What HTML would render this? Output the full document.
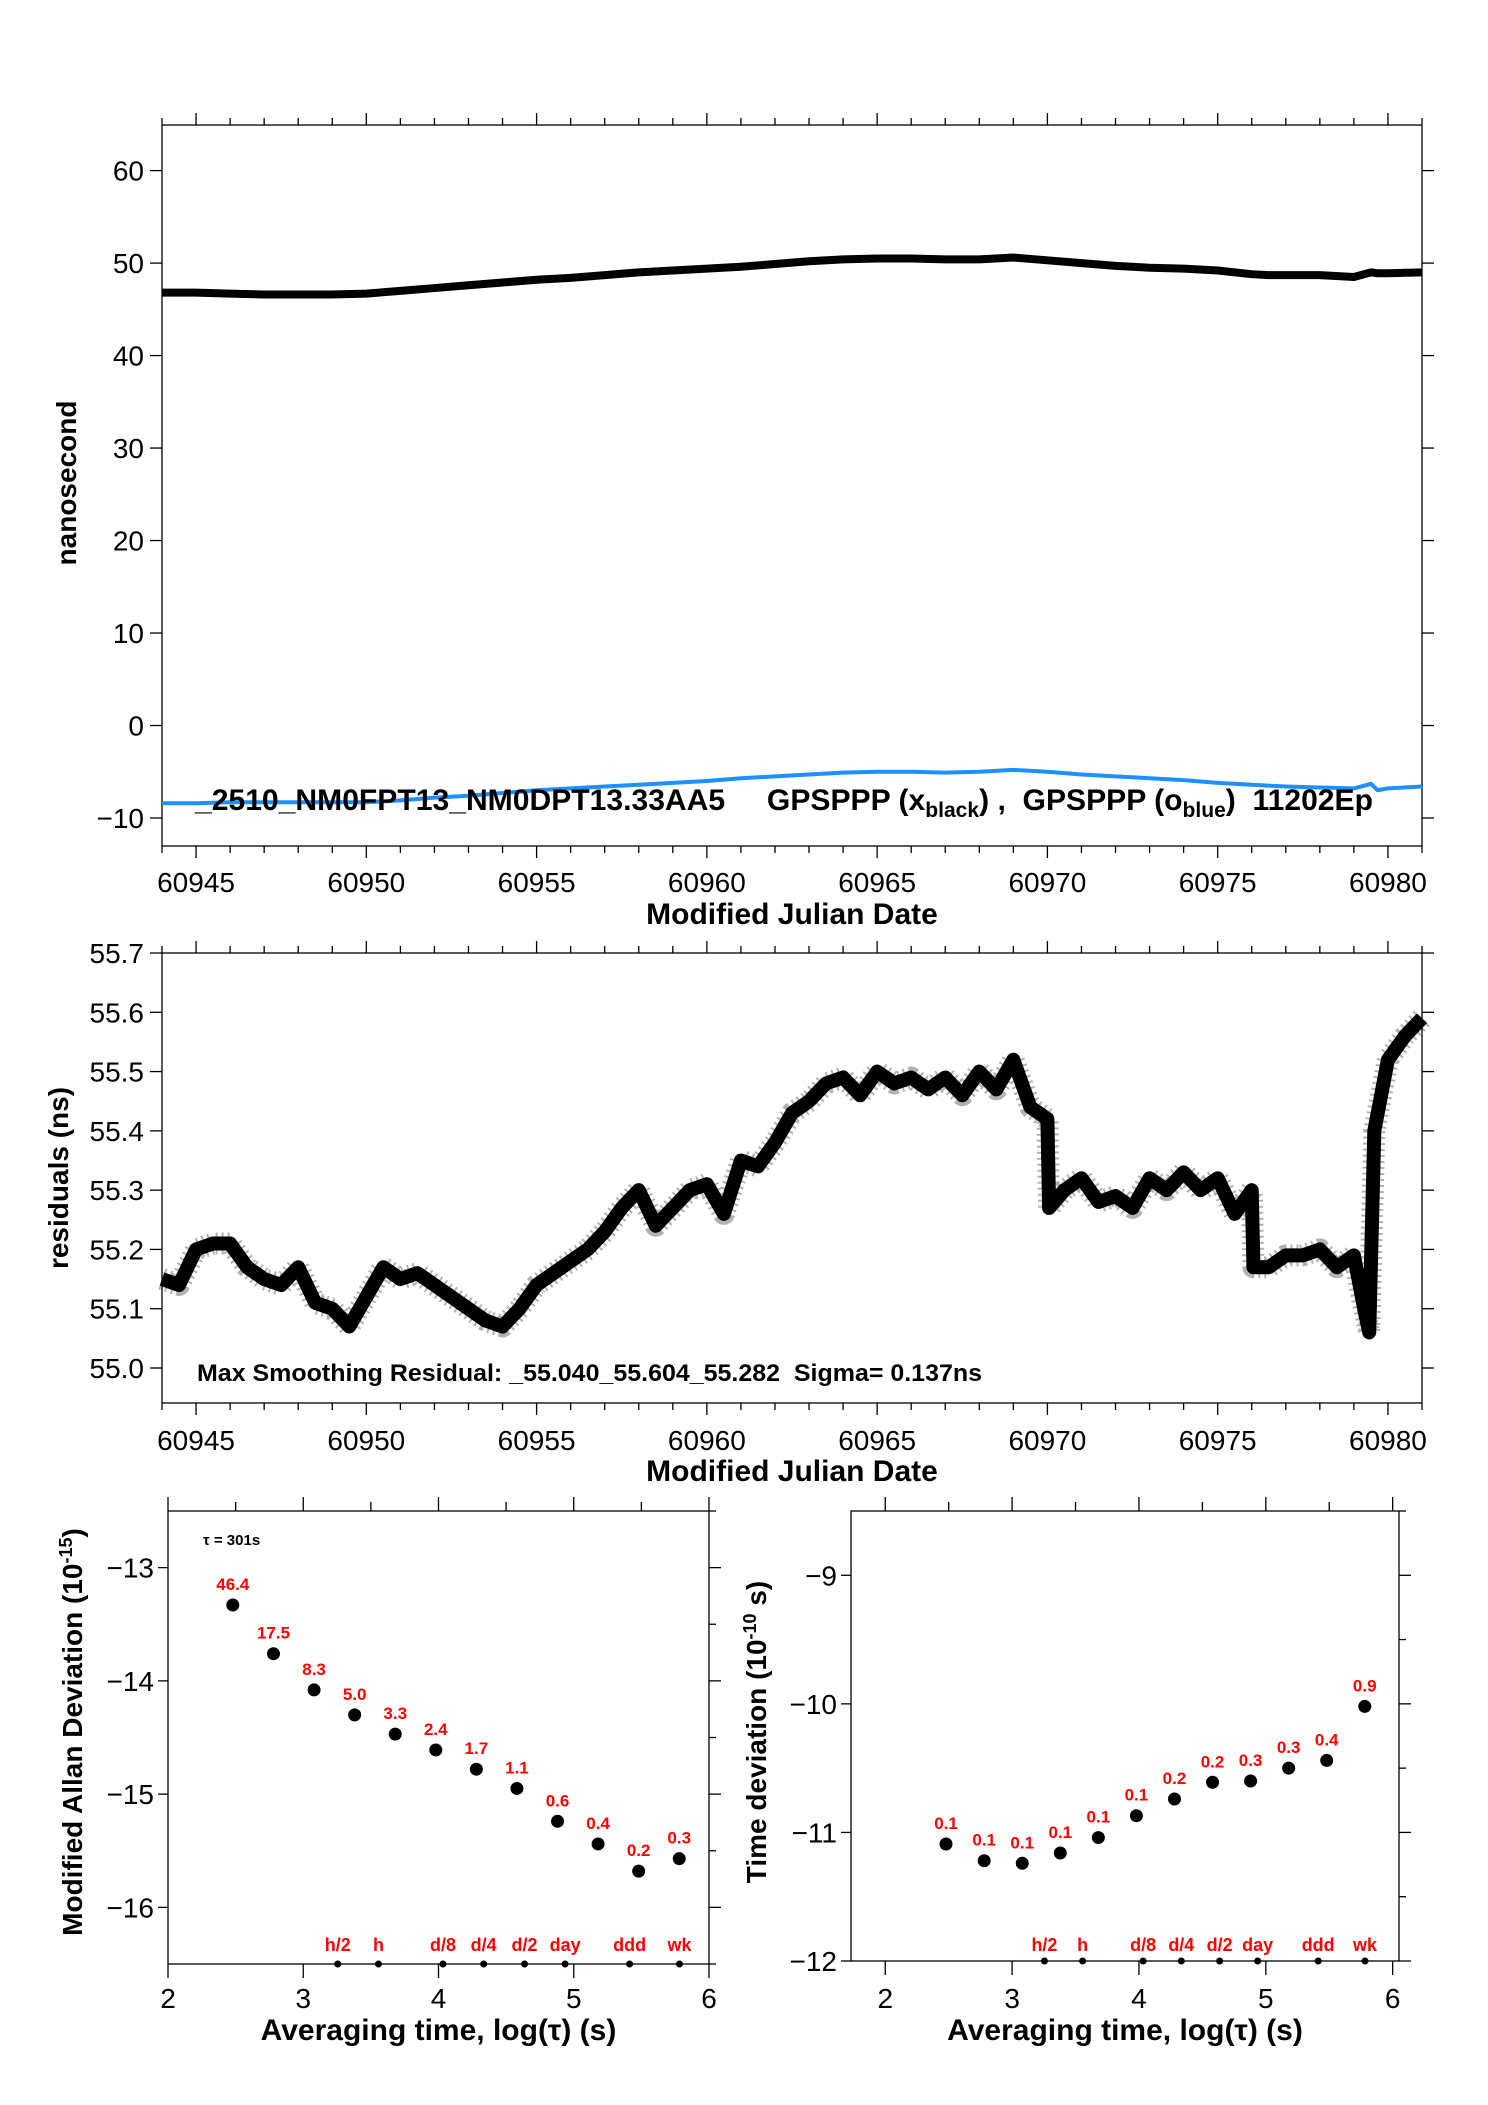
<!DOCTYPE html>
<html><head><meta charset="utf-8"><style>
html,body{margin:0;padding:0;background:#fff;}
svg{display:block;font-family:"Liberation Sans",sans-serif;}
</style></head><body>
<svg id="s" width="1488" height="2105" viewBox="0 0 1488 2105" xmlns="http://www.w3.org/2000/svg"></svg>
<script>
// ---- data ----
const tsDays = [60944,60945,60946,60947,60948,60949,60950,60951,60952,60953,60954,60955,60956,60957,60958,60959,60960,60961,60962,60963,60964,60965,60966,60967,60968,60969,60970,60971,60972,60973,60974,60975,60976,60976.5,60977,60978,60979,60979.5,60979.7,60980,60981];
const blackVals = [46.8,46.8,46.7,46.6,46.6,46.6,46.7,47.0,47.3,47.6,47.9,48.2,48.4,48.7,49.0,49.2,49.4,49.6,49.9,50.2,50.4,50.5,50.5,50.4,50.4,50.6,50.3,50.0,49.7,49.5,49.4,49.2,48.8,48.7,48.7,48.7,48.5,49.0,48.9,48.9,49.0];
const blueVals = [-8.4,-8.4,-8.3,-8.3,-8.3,-8.3,-8.3,-8.1,-7.8,-7.6,-7.3,-7.0,-6.8,-6.6,-6.4,-6.2,-6.0,-5.7,-5.5,-5.3,-5.1,-5.0,-5.0,-5.1,-5.0,-4.8,-5.0,-5.3,-5.5,-5.7,-5.9,-6.2,-6.4,-6.5,-6.6,-6.7,-6.8,-6.3,-7.0,-6.8,-6.6];
const resDays = [60944,60944.5,60945,60945.5,60946,60946.5,60947,60947.5,60948,60948.5,60949,60949.5,60950,60950.5,60951,60951.5,60952,60952.5,60953,60953.5,60954,60954.5,60955,60955.5,60956,60956.5,60957,60957.5,60958,60958.5,60959,60959.5,60960,60960.5,60961,60961.5,60962,60962.5,60963,60963.5,60964,60964.5,60965,60965.5,60966,60966.5,60967,60967.5,60968,60968.5,60969,60969.5,60970,60970.05,60970.5,60971,60971.5,60972,60972.5,60973,60973.5,60974,60974.5,60975,60975.5,60976,60976.05,60976.5,60977,60977.5,60978,60978.5,60979,60979.3,60979.45,60979.6,60980,60980.5,60981];
const resVals = [55.15,55.14,55.20,55.21,55.21,55.17,55.15,55.14,55.17,55.11,55.10,55.07,55.12,55.17,55.15,55.16,55.14,55.12,55.10,55.08,55.07,55.10,55.14,55.16,55.18,55.20,55.23,55.27,55.30,55.24,55.27,55.30,55.31,55.26,55.35,55.34,55.38,55.43,55.45,55.48,55.49,55.46,55.50,55.48,55.49,55.47,55.49,55.46,55.50,55.47,55.52,55.44,55.42,55.27,55.30,55.32,55.28,55.29,55.27,55.32,55.30,55.33,55.30,55.32,55.26,55.30,55.17,55.17,55.19,55.19,55.20,55.17,55.19,55.10,55.06,55.40,55.52,55.56,55.59];
const tauLog = [2.479,2.78,3.08,3.38,3.68,3.98,4.28,4.58,4.88,5.18,5.48,5.78];
const mdevVals = [-13.33,-13.76,-14.08,-14.30,-14.47,-14.61,-14.78,-14.95,-15.24,-15.44,-15.68,-15.57];
const mdevLabels = ["46.4","17.5","8.3","5.0","3.3","2.4","1.7","1.1","0.6","0.4","0.2","0.3"];
const tdevVals = [-11.09,-11.22,-11.24,-11.16,-11.04,-10.87,-10.74,-10.61,-10.60,-10.50,-10.44,-10.02];
const tdevLabels = ["0.1","0.1","0.1","0.1","0.1","0.1","0.2","0.2","0.3","0.3","0.4","0.9"];
const markNames = ["h/2","h","d/8","d/4","d/2","day","ddd","wk"];
const markLog = [3.255,3.556,4.033,4.334,4.636,4.936,5.413,5.782];
const mjdTicks = [60945,60950,60955,60960,60965,60970,60975,60980];
const nsTicks = [-10,0,10,20,30,40,50,60];
const resTicks = [55.0,55.1,55.2,55.3,55.4,55.5,55.6,55.7];

const S = document.getElementById('s');
const NS = 'http://www.w3.org/2000/svg';
function el(tag, attrs, parent){ const e=document.createElementNS(NS,tag); for(const k in attrs) e.setAttribute(k,attrs[k]); (parent||S).appendChild(e); return e; }
function txt(x,y,str,size,opts,parent){ const t=el('text',Object.assign({x:x,y:y,'font-size':size,fill:'#000'},opts||{}),parent); t.textContent=str; return t; }
function lin(d0,d1,r0,r1){ return v => r0 + (v-d0)*(r1-r0)/(d1-d0); }

// ---------- Top plot ----------
const T = {l:162,r:1422,t:125,b:846};
const xT = lin(60944,60981,T.l,T.r);
const yT = lin(-10,60,818,170.6);
const g1 = el('g',{});  
const f1 = el('rect',{x:T.l,y:T.t,width:T.r-T.l,height:T.b-T.t,fill:'none',stroke:'#000','stroke-width':1.3},g1);
 
for(let d=60944; d<=60981; d++){
  const maj = d%5===0, L = maj?12:7, x=xT(d);
  el('line',{x1:x,y1:T.b,x2:x,y2:T.b+L,stroke:'#000','stroke-width':1.3},g1);
  el('line',{x1:x,y1:T.t,x2:x,y2:T.t-L,stroke:'#000','stroke-width':1.3},g1);
}
mjdTicks.forEach(d=>{ const t=txt(xT(d),892,String(d),28,{'text-anchor':'middle'},g1);   });
nsTicks.forEach(v=>{ const y=yT(v);
  el('line',{x1:T.l-12,y1:y,x2:T.l,y2:y,stroke:'#000','stroke-width':1.3},g1);
  el('line',{x1:T.r,y1:y,x2:T.r+12,y2:y,stroke:'#000','stroke-width':1.3},g1);
  const t=txt(T.l-18,y+10,(v<0?'\u2212'+(-v):String(v)),28,{'text-anchor':'end'},g1);  
});
let pb = tsDays.map((d,i)=>xT(d)+','+yT(blackVals[i])).join(' ');
const lb = el('polyline',{points:pb,fill:'none',stroke:'#000','stroke-width':8,'stroke-linejoin':'round'},g1);
 
let pu = tsDays.map((d,i)=>xT(d)+','+yT(blueVals[i])).join(' ');
const lu = el('polyline',{points:pu,fill:'none',stroke:'#1e90ff','stroke-width':4,'stroke-linejoin':'round'},g1);
 
const leg = el('text',{x:195,y:810,'font-size':30,'font-weight':'bold',fill:'#000',textLength:1178,lengthAdjust:'spacingAndGlyphs'},g1);
 
leg.innerHTML = '_2510_NM0FPT13_NM0DPT13.33AA5\u00a0\u00a0\u00a0\u00a0 GPSPPP (x<tspan font-size="21" dy="7">black</tspan><tspan dy="-7">) ,\u00a0 GPSPPP (o</tspan><tspan font-size="21" dy="7">blue</tspan><tspan dy="-7">)\u00a0 11202Ep</tspan>';
let yt1 = txt(76,483,'nanosecond',28,{'font-weight':'bold','text-anchor':'middle',transform:'rotate(-90 76 483)'},g1);
 
let xt1 = txt(792,924,'Modified Julian Date',30,{'font-weight':'bold','text-anchor':'middle'},g1);
 

// ---------- Middle plot ----------
const M = {l:162,r:1422,t:953,b:1403};
const yM = lin(55.0,55.7,1368,953);
const g2 = el('g',{});  
const f2 = el('rect',{x:M.l,y:M.t,width:M.r-M.l,height:M.b-M.t,fill:'none',stroke:'#000','stroke-width':1.3},g2);
 
for(let d=60944; d<=60981; d++){
  const maj = d%5===0, L = maj?12:7, x=xT(d);
  el('line',{x1:x,y1:M.b,x2:x,y2:M.b+L,stroke:'#000','stroke-width':1.3},g2);
  el('line',{x1:x,y1:M.t,x2:x,y2:M.t-L,stroke:'#000','stroke-width':1.3},g2);
}
mjdTicks.forEach(d=>{ const t=txt(xT(d),1450,String(d),28,{'text-anchor':'middle'},g2);   });
resTicks.forEach(v=>{ const y=yM(v);
  el('line',{x1:M.l-12,y1:y,x2:M.l,y2:y,stroke:'#000','stroke-width':1.3},g2);
  el('line',{x1:M.r,y1:y,x2:M.r+12,y2:y,stroke:'#000','stroke-width':1.3},g2);
  const t=txt(M.l-18,y+10,v.toFixed(1),28,{'text-anchor':'end'},g2);  
});
let pr = resDays.map((d,i)=>xT(d)+','+yM(resVals[i])).join(' ');
const lr2 = el('polyline',{points:pr,fill:'none',stroke:'#000','stroke-width':22,'stroke-opacity':0.3,'stroke-dasharray':'2 4','stroke-linejoin':'round'},g2);
 
const lr = el('polyline',{points:pr,fill:'none',stroke:'#000','stroke-width':14,'stroke-linejoin':'round','stroke-linecap':'butt'},g2);
 
let ms = txt(197,1381,'Max Smoothing Residual: _55.040_55.604_55.282\u00a0 Sigma= 0.137ns',24,{'font-weight':'bold',textLength:785,lengthAdjust:'spacingAndGlyphs'},g2);
 
let yt2 = txt(68,1178,'residuals (ns)',28,{'font-weight':'bold','text-anchor':'middle',transform:'rotate(-90 68 1178)'},g2);
 
let xt2 = txt(792,1481,'Modified Julian Date',30,{'font-weight':'bold','text-anchor':'middle'},g2);
 

// ---------- Bottom plots ----------
function stabPlot(name, box, xd, yd, yTicksArr, vals, labels, ytitle, tx){
  const g = el('g',{});  
  const xs = lin(xd[0],xd[1],box.l,box.r), ys = lin(yd[0],yd[1],box.b,box.t);
  const f = el('rect',{x:box.l,y:box.t,width:box.r-box.l,height:box.b-box.t,fill:'none',stroke:'#000','stroke-width':1.3},g);
   
  for(let v=2; v<=6; v+=0.5){ const x=xs(v); const maj=Number.isInteger(v);
    el('line',{x1:x,y1:box.t,x2:x,y2:box.t-(maj?14:9),stroke:'#000','stroke-width':1.3},g);
    if(maj){ el('line',{x1:x,y1:box.b,x2:x,y2:box.b+14,stroke:'#000','stroke-width':1.3},g);
      const t=txt(x,2008,String(v),28,{'text-anchor':'middle'},g);   }
  }
  for(let v=Math.ceil(yd[0]*2)/2; v<=yd[1]+1e-9; v+=0.5){ const y=ys(v); const maj=Number.isInteger(v);
    el('line',{x1:box.r,y1:y,x2:box.r+(maj?12:7),y2:y,stroke:'#000','stroke-width':1.3},g);
  }
  yTicksArr.forEach(v=>{ const y=ys(v);
    el('line',{x1:box.l-10,y1:y,x2:box.l,y2:y,stroke:'#000','stroke-width':1.3},g);
    const t=txt(box.l-14,y+10,'\u2212'+(-v),28,{'text-anchor':'end'},g);  
  });
  vals.forEach((v,i)=>{
    const c=el('circle',{cx:xs(tauLog[i]),cy:ys(v),r:6.5,fill:'#000'},g);
     
    const t=txt(xs(tauLog[i]),ys(v)-15,labels[i],17,{'text-anchor':'middle','font-weight':'bold',fill:'#ff0000'},g);
     
  });
  markNames.forEach((n,i)=>{
    const c=el('circle',{cx:xs(markLog[i]),cy:box.b,r:3.5,fill:'#000'},g);
     
    const t=txt(xs(markLog[i]),1951,n,18,{'text-anchor':'middle','font-weight':'bold',fill:'#ff0000'},g);
     
  });
  const yt=el('text',{x:tx,y:1732,'font-size':28,'font-weight':'bold','text-anchor':'middle',transform:'rotate(-90 '+tx+' 1732)'},g);
   
  yt.innerHTML = ytitle;
  const xt=txt((box.l+box.r)/2,2040,'Averaging time, log(\u03c4) (s)',30,{'font-weight':'bold','text-anchor':'middle'},g);
   
  return g;
}
const gL = stabPlot('mdev-chart',{l:168,r:709,t:1511,b:1964},[2,6],[-16.5,-12.5],[-13,-14,-15,-16],mdevVals,mdevLabels,
  'Modified Allan Deviation (10<tspan font-size="18" dy="-10">-15</tspan><tspan dy="10">)</tspan>',82);
const tau = txt(203,1545,'\u03c4 = 301s',15,{'font-weight':'bold'},gL);
 
stabPlot('tdev-chart',{l:851,r:1399,t:1511,b:1961},[1.73,6.05],[-12,-8.5],[-9,-10,-11,-12],tdevVals,tdevLabels,
  'Time deviation (10<tspan font-size="18" dy="-10">-10</tspan><tspan dy="10"> s)</tspan>',766);
</script>
</body></html>
